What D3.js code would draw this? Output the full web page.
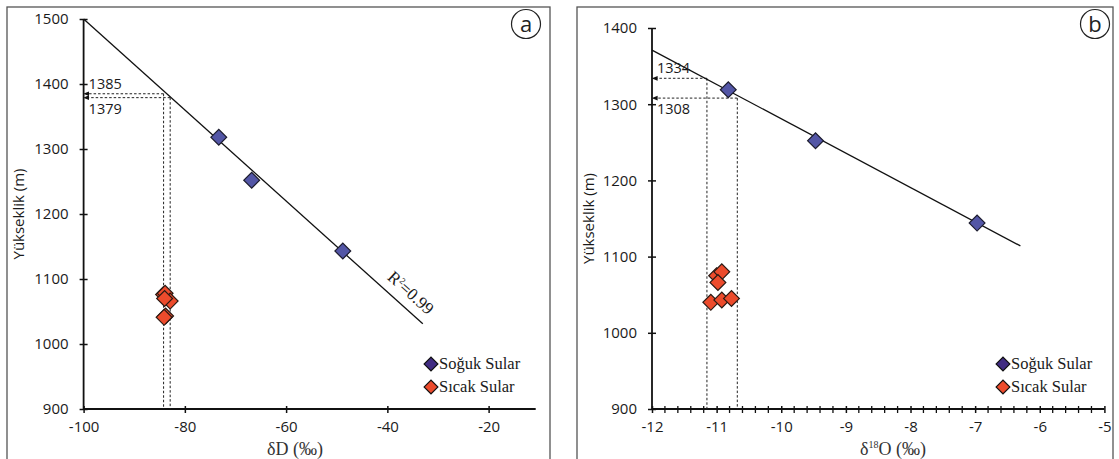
<!DOCTYPE html>
<html>
<head>
<meta charset="utf-8">
<script src="https://cdn.jsdelivr.net/npm/d3@7"></script>
<style>
  body { margin: 0; background: #fff; }
  svg { display: block; }
</style>
</head>
<body>
<script>
// panel a: deltaD vs elevation
const coldD = [-73.3, -66.8, -48.8]
const coldDElev = [1318, 1252, 1143]
const hotD = [-84.2, -83.9, -82.9, -84.0, -83.8, -84.1]
const hotDElev = [1076, 1078, 1066, 1070, 1043, 1041]
const fitD = [-100, -33]
const fitDElev = [1500, 1031]
const readD = [-84.2, -82.9]
const readDElev = [1385, 1379]
const ticksD = [-100, -80, -60, -40, -20]
const ticksElevA = [900, 1000, 1100, 1200, 1300, 1400, 1500]

// panel b: delta18O vs elevation
const coldO = [-10.82, -9.47, -6.97]
const coldOElev = [1319, 1252, 1144]
const hotO = [-11.0, -10.92, -10.98, -11.09, -10.92, -10.77]
const hotOElev = [1075, 1080, 1066, 1040, 1043, 1045]
const fitO = [-12, -6.3]
const fitOElev = [1371, 1114]
const readO = [-11.15, -10.68]
const readOElev = [1334, 1308]
const ticksO = [-12, -11, -10, -9, -8, -7, -6, -5]
const ticksElevB = [900, 1000, 1100, 1200, 1300, 1400]

const legendNames = ['Soğuk Sular', 'Sıcak Sular']
const coldFill = '#5356a6'
const hotFill = '#ec4b2c'
const legendFills = ['#412c82', '#ec4b2c']

const svg = d3.select('body').append('svg')
  .attr('width', 1119)
  .attr('height', 459)

svg.append('rect').attr('width', 1119).attr('height', 459).attr('fill', '#fff')

const sans = "'Open Sans', sans-serif"
const serif = "'Liberation Serif', 'DejaVu Serif', serif"
const plain = d => String(d)

// frames
svg.append('rect').attr('x', 7).attr('y', 7).attr('width', 543).attr('height', 460)
  .attr('fill', 'none').attr('stroke', '#555').attr('stroke-width', 1.3)
svg.append('rect').attr('x', 577).attr('y', 7).attr('width', 536).attr('height', 460)
  .attr('fill', 'none').attr('stroke', '#555').attr('stroke-width', 1.3)

svg.append('defs').append('marker')
  .attr('id', 'arr')
  .attr('viewBox', '0 0 10 10')
  .attr('refX', 1).attr('refY', 5)
  .attr('markerWidth', 6).attr('markerHeight', 6)
  .attr('orient', 'auto-start-reverse')
  .append('path').attr('d', 'M0,1 L10,5 L0,9 Z').attr('fill', '#111')

function panel(cfg) {
  const g = svg.append('g')
  const x = d3.scaleLinear().domain(cfg.xDomain).range(cfg.xRange)
  const y = d3.scaleLinear().domain(cfg.yDomain).range(cfg.yRange)

  // y axis
  const ya = g.append('g')
    .attr('transform', `translate(${cfg.xRange[0]},0)`)
    .call(d3.axisLeft(y).tickValues(cfg.yTicks).tickFormat(plain).tickSize(4).tickPadding(11))
  ya.select('.domain').attr('stroke', '#111').attr('stroke-width', 1.8).attr('d', `M0,${cfg.yRange[0]}V${y(cfg.yTicks[cfg.yTicks.length - 1])}`)
  ya.selectAll('.tick line').attr('x1', 4).attr('stroke', '#111').attr('stroke-width', 1.5)
  ya.selectAll('.tick text').style('font-family', sans).style('font-size', '15px').attr('fill', '#1a1a1a')

  // x axis
  const xa = g.append('g')
    .attr('transform', `translate(0,${cfg.yRange[0]})`)
    .call(d3.axisBottom(x).tickValues(cfg.xTicks).tickFormat(plain).tickSize(4).tickPadding(8))
  xa.select('.domain').attr('stroke', '#111').attr('stroke-width', 1.8).attr('d', `M${cfg.xRange[0]},0H${cfg.xRange[1]}`)
  xa.selectAll('.tick line').attr('y1', -3).attr('stroke', '#111').attr('stroke-width', 1.5)
  xa.selectAll('.tick text').style('font-family', sans).style('font-size', '15px').attr('fill', '#1a1a1a')

  if (cfg.minor) {
    g.append('g').selectAll('line')
      .data(x.ticks(35).filter(v => !cfg.xTicks.includes(v)))
      .enter().append('line')
      .attr('x1', d => x(d)).attr('x2', d => x(d))
      .attr('y1', cfg.yRange[0] - 3).attr('y2', cfg.yRange[0] + 4)
      .attr('stroke', '#111').attr('stroke-width', 1.3)
  }

  // dashed read-off lines
  const dash = g.append('g').attr('stroke', '#222').attr('stroke-width', 1).attr('stroke-dasharray', '2.5,2')
  cfg.readX.forEach((rx, i) => {
    const ry = cfg.readY[i]
    dash.append('line')
      .attr('x1', x(rx)).attr('x2', x(rx))
      .attr('y1', y(ry)).attr('y2', cfg.yRange[0])
    dash.append('line')
      .attr('x1', x(rx)).attr('x2', cfg.xRange[0] + 5)
      .attr('y1', y(ry)).attr('y2', y(ry))
      .attr('marker-end', 'url(#arr)')
  })

  // fit line
  g.append('line')
    .attr('x1', x(cfg.fitX[0])).attr('y1', y(cfg.fitY[0]))
    .attr('x2', x(cfg.fitX[1])).attr('y2', y(cfg.fitY[1]))
    .attr('stroke', '#111').attr('stroke-width', 1.3)

  // read-off labels
  cfg.readY.forEach((ry, i) => {
    g.append('text')
      .attr('x', cfg.xRange[0] + 5)
      .attr('y', y(ry) + (i === 0 ? -5 : 16))
      .style('font-family', sans).style('font-size', '14.5px').attr('fill', '#1a1a1a')
      .text(ry)
  })

  const diamond = d3.symbol().type(d3.symbolSquare).size(125)

  g.append('g').selectAll('path')
    .data(cfg.hotX.map((v, i) => [v, cfg.hotY[i]]))
    .enter().append('path')
    .attr('d', diamond)
    .attr('transform', d => `translate(${x(d[0])},${y(d[1])}) rotate(45)`)
    .attr('fill', hotFill).attr('stroke', '#2a1a14').attr('stroke-width', 1.2)

  g.append('g').selectAll('path')
    .data(cfg.coldX.map((v, i) => [v, cfg.coldY[i]]))
    .enter().append('path')
    .attr('d', diamond)
    .attr('transform', d => `translate(${x(d[0])},${y(d[1])}) rotate(45)`)
    .attr('fill', coldFill).attr('stroke', '#1c1c2e').attr('stroke-width', 1.2)

  // legend
  const lg = g.append('g').attr('transform', `translate(${cfg.legendX},364)`)
  legendNames.forEach((name, i) => {
    lg.append('path')
      .attr('d', d3.symbol().type(d3.symbolSquare).size(95))
      .attr('transform', `translate(0,${i * 23}) rotate(45)`)
      .attr('fill', legendFills[i]).attr('stroke', '#111').attr('stroke-width', 1.2)
    lg.append('text')
      .attr('x', 8).attr('y', i * 23 + 5)
      .style('font-family', serif).style('font-size', '16.5px').attr('fill', '#1a1a1a')
      .text(name)
  })

  // axis titles
  g.append('text')
    .attr('transform', `translate(${cfg.yTitleX},${(cfg.yRange[0] + cfg.yRange[1]) / 2}) rotate(-90)`)
    .attr('text-anchor', 'middle')
    .style('font-family', sans).style('font-size', '15px').attr('fill', '#1a1a1a')
    .text('Yükseklik (m)')

  const xt = g.append('text')
    .attr('x', cfg.xTitleX).attr('y', 455)
    .attr('text-anchor', 'middle')
    .style('font-family', serif).style('font-size', '18px').attr('fill', '#333')
  cfg.xTitle(xt)

  // panel letter
  g.append('circle').attr('cx', cfg.letterX).attr('cy', 24).attr('r', 14.5)
    .attr('fill', '#fff').attr('stroke', '#222').attr('stroke-width', 1.2)
  g.append('text').attr('x', cfg.letterX).attr('y', 31.5)
    .attr('text-anchor', 'middle')
    .style('font-family', sans).style('font-size', '22px').attr('fill', '#222')
    .text(cfg.letter)

  return { x, y, g }
}

const a = panel({
  xDomain: [-100, -10.7], xRange: [83.6, 535.7],
  yDomain: [900, 1500], yRange: [409, 19],
  xTicks: ticksD, yTicks: ticksElevA,
  coldX: coldD, coldY: coldDElev, hotX: hotD, hotY: hotDElev,
  fitX: fitD, fitY: fitDElev, readX: readD, readY: readDElev,
  legendX: 431, yTitleX: 24, xTitleX: 295, letterX: 526, letter: 'a',
  xTitle: t => t.text('δD (‰)')
})

// R² label along the fit line
const ang = Math.atan2(a.y(fitDElev[1]) - a.y(fitDElev[0]), a.x(fitD[1]) - a.x(fitD[0])) * 180 / Math.PI
const r2 = a.g.append('text')
  .attr('transform', `translate(${a.x(-37.5) + 7},${a.y(1063) - 6}) rotate(${ang})`)
  .attr('text-anchor', 'middle')
  .style('font-family', serif).style('font-size', '17px').attr('fill', '#1a1a1a')
r2.append('tspan').text('R')
r2.append('tspan').attr('dy', -6).style('font-size', '9px').text('2')
r2.append('tspan').attr('dy', 6).text('=0.99')

panel({
  xDomain: [-12, -5], xRange: [652, 1104.4],
  yDomain: [900, 1400], yRange: [409, 28],
  xTicks: ticksO, yTicks: ticksElevB, minor: true,
  coldX: coldO, coldY: coldOElev, hotX: hotO, hotY: hotOElev,
  fitX: fitO, fitY: fitOElev, readX: readO, readY: readOElev,
  legendX: 1003, yTitleX: 594, xTitleX: 893, letterX: 1095, letter: 'b',
  xTitle: t => {
    t.append('tspan').text('δ')
    t.append('tspan').attr('dy', -7).style('font-size', '10px').text('18')
    t.append('tspan').attr('dy', 7).text('O (‰)')
  }
})
</script>
</body>
</html>
